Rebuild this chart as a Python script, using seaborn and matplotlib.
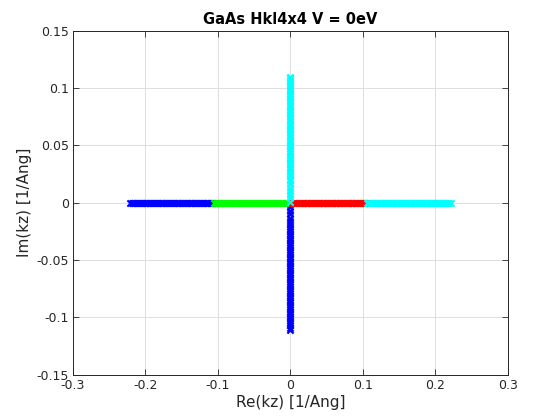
import matplotlib
matplotlib.use("Agg")
import matplotlib.pyplot as plt
import numpy as np
import pandas as pd
import seaborn as sns

# Re(kz) of the real branches (Im = 0)
blue_re = [-0.221, -0.219, -0.217, -0.215, -0.213, -0.211, -0.209, -0.207, -0.205, -0.203,
           -0.201, -0.199, -0.197, -0.195, -0.193, -0.191, -0.189, -0.187, -0.185, -0.183,
           -0.181, -0.179, -0.177, -0.175, -0.173, -0.171, -0.169, -0.167, -0.165, -0.163,
           -0.161, -0.159, -0.157, -0.155, -0.153, -0.151, -0.149, -0.147, -0.145, -0.143,
           -0.141, -0.139, -0.137, -0.135, -0.133, -0.131, -0.129, -0.127, -0.125, -0.123,
           -0.121, -0.119, -0.117, -0.115, -0.113, -0.111, -0.109, -0.107]
green_re = [-0.105, -0.103, -0.101, -0.099, -0.097, -0.095, -0.093, -0.091, -0.089, -0.087,
            -0.085, -0.083, -0.081, -0.079, -0.077, -0.075, -0.073, -0.071, -0.069, -0.067,
            -0.065, -0.063, -0.061, -0.059, -0.057, -0.055, -0.053, -0.051, -0.049, -0.047,
            -0.045, -0.043, -0.041, -0.039, -0.037, -0.035, -0.033, -0.031, -0.029, -0.027,
            -0.025, -0.023, -0.021, -0.019, -0.017, -0.015, -0.013, -0.011, -0.008, -0.005,
            -0.002]
red_re = [0.002, 0.005, 0.008, 0.011, 0.013, 0.015, 0.017, 0.019, 0.021, 0.023,
          0.025, 0.027, 0.029, 0.031, 0.033, 0.035, 0.037, 0.039, 0.041, 0.043,
          0.045, 0.047, 0.049, 0.051, 0.053, 0.055, 0.057, 0.059, 0.061, 0.063,
          0.065, 0.067, 0.069, 0.071, 0.073, 0.075, 0.077, 0.079, 0.081, 0.083,
          0.085, 0.087, 0.089, 0.091, 0.093, 0.095, 0.097, 0.099, 0.101, 0.103]
cyan_re = [0.105, 0.107, 0.109, 0.111, 0.113, 0.115, 0.117, 0.119, 0.121, 0.123,
           0.125, 0.127, 0.129, 0.131, 0.133, 0.135, 0.137, 0.139, 0.141, 0.143,
           0.145, 0.147, 0.149, 0.151, 0.153, 0.155, 0.157, 0.159, 0.161, 0.163,
           0.165, 0.167, 0.169, 0.171, 0.173, 0.175, 0.177, 0.179, 0.181, 0.183,
           0.185, 0.187, 0.189, 0.191, 0.193, 0.195, 0.197, 0.199, 0.201, 0.203,
           0.205, 0.207, 0.209, 0.211, 0.213, 0.215, 0.217, 0.219, 0.221]

# Im(kz) of the evanescent branches (Re = 0)
cyan_im = [0.001, 0.004, 0.007, 0.010, 0.013, 0.016, 0.019, 0.021, 0.023, 0.025,
           0.027, 0.029, 0.031, 0.033, 0.035, 0.037, 0.039, 0.041, 0.043, 0.045,
           0.047, 0.049, 0.051, 0.053, 0.055, 0.057, 0.059, 0.061, 0.063, 0.065,
           0.067, 0.069, 0.071, 0.073, 0.075, 0.077, 0.079, 0.081, 0.083, 0.085,
           0.087, 0.089, 0.091, 0.093, 0.095, 0.097, 0.099, 0.101, 0.103, 0.105,
           0.107, 0.109, 0.110]
blue_im = [-0.001, -0.004, -0.007, -0.010, -0.013, -0.016, -0.019, -0.021, -0.023, -0.025,
           -0.027, -0.029, -0.031, -0.033, -0.035, -0.037, -0.039, -0.041, -0.043, -0.045,
           -0.047, -0.049, -0.051, -0.053, -0.055, -0.057, -0.059, -0.061, -0.063, -0.065,
           -0.067, -0.069, -0.071, -0.073, -0.075, -0.077, -0.079, -0.081, -0.083, -0.085,
           -0.087, -0.089, -0.091, -0.093, -0.095, -0.097, -0.099, -0.101, -0.103, -0.105,
           -0.107, -0.109, -0.111]

xticks = [-0.3, -0.2, -0.1, 0, 0.1, 0.2, 0.3]
yticks = [-0.15, -0.1, -0.05, 0, 0.05, 0.1, 0.15]

plt.rcParams['font.family'] = ['DejaVu Sans']

fig = plt.figure(figsize=(5.6, 4.2), dpi=100)
ax = fig.add_axes([0.13, 0.108, 0.777, 0.819])

branches = [
    (blue_re, [0.0] * len(blue_re), 'blue'),
    ([0.0] * len(blue_im), blue_im, 'blue'),
    (green_re, [0.0] * len(green_re), '#00ff00'),
    (red_re, [0.0] * len(red_re), 'red'),
    (cyan_re, [0.0] * len(cyan_re), 'cyan'),
    ([0.0] * len(cyan_im), cyan_im, 'cyan'),
]
for re, im, col in branches:
    df = pd.DataFrame({'re': re, 'im': im})
    sns.scatterplot(data=df, x='re', y='im', marker='x', color=col, s=20,
                    linewidth=1.5, ax=ax, zorder=3)

ax.set_xlim(-0.3, 0.3)
ax.set_ylim(-0.15, 0.15)
ax.set_xticks(xticks)
ax.set_yticks(yticks)
ax.set_xticklabels(['-0.3', '-0.2', '-0.1', '0', '0.1', '0.2', '0.3'])
ax.set_yticklabels(['-0.15', '-0.1', '-0.05', '0', '0.05', '0.1', '0.15'])
ax.grid(True, color='#dfdfdf', linewidth=0.7)
ax.set_axisbelow(True)
ax.tick_params(direction='in', top=True, right=True, length=4, width=0.6,
               labelsize=9, colors='#262626', pad=3)
for sp in ax.spines.values():
    sp.set_color('#262626')
    sp.set_linewidth(0.7)

ax.set_xlabel('Re(kz) [1/Ang]', fontsize=11, color='#262626', labelpad=2)
ax.set_ylabel('Im(kz) [1/Ang]', fontsize=11, color='#262626', labelpad=3)
ax.set_title('GaAs Hkl4x4 V = 0eV', fontsize=10.5, fontweight='bold', pad=5)

fig.savefig('out.png', dpi=100)
